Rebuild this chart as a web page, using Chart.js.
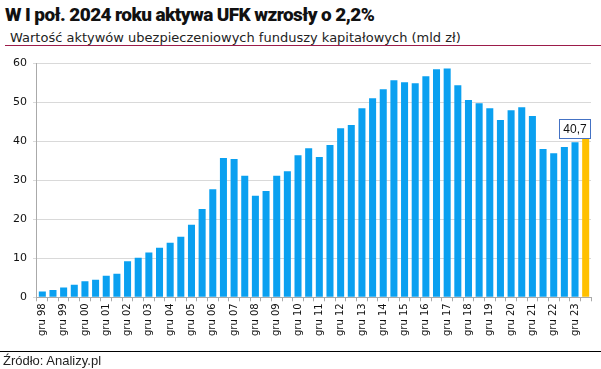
<!DOCTYPE html>
<html>
<head>
<meta charset="utf-8">
<script src="https://cdn.jsdelivr.net/npm/chart.js@4"></script>
<style>
  body { margin: 0; background: #fff; }
  #wrap { position: relative; width: 601px; height: 369px; overflow: hidden; }
  #tytul { position: absolute; left: 5px; top: 3px; font-family: Roboto, Lato, sans-serif; font-weight: 900; font-size: 19px; color: #111; letter-spacing: -0.6px; }
  #podtytul { position: absolute; left: 10px; top: 30px; font-family: "DejaVu Sans", sans-serif; font-size: 13px; color: #222; }
  #linia1 { position: absolute; left: 5px; right: 0; top: 45px; height: 1px; background: #9c1c4a; }
  #linia2 { position: absolute; left: 0; right: 0; top: 351px; height: 1px; background: #000; }
  #zrodlo { position: absolute; left: 3px; top: 353px; font-family: "Liberation Sans", Arial, sans-serif; font-size: 13px; color: #222; }
  #wykres { position: absolute; left: 0; top: 0; width: 601px; height: 369px; }
</style>
</head>
<body>
<div id="wrap">
  <div id="tytul">W I poł. 2024 roku aktywa UFK wzrosły o 2,2%</div>
  <div id="podtytul">Wartość aktywów ubezpieczeniowych funduszy kapitałowych (mld zł)</div>
  <div id="linia1"></div>
  <div id="wykres"><canvas id="aktywaChart"></canvas></div>
  <div id="linia2"></div>
  <div id="zrodlo">Źródło: Analizy.pl</div>
</div>
<script>
// okresy półroczne: gru 98, cze 99, gru 99 ... gru 23, cze 24
const okresy = [];
for (let r = 98; r <= 123; r++) {
    const rr = String(r % 100).padStart(2, '0');
    if (r > 98) okresy.push('cze ' + rr);
    okresy.push('gru ' + rr);
}
okresy.push('cze 24');

// wartości aktywów (mld zł)
const aktywa = [
    1.5, 1.9, 2.5, 3.2, 4.1, 4.5, 5.5, 6.0, 9.2, 10.1,
    11.5, 12.7, 14.0, 15.5, 18.6, 22.6, 27.7, 35.7, 35.4, 31.1,
    26.0, 27.2, 31.1, 32.3, 36.4, 38.2, 35.9, 39.0, 43.3, 44.1,
    48.4, 51.0, 53.3, 55.6, 55.1, 54.8, 56.6, 58.4, 58.6, 54.3,
    50.5, 49.7, 48.4, 45.4, 47.9, 48.7, 46.4, 38.0, 36.9, 38.5,
    39.7, 40.7
];

const etykietaOstatniej = '40,7';

const kolory = aktywa.map((v, i) => i === aktywa.length - 1 ? '#ffc000' : '#0aa0f0');

// ramka z wartością nad ostatnim słupkiem
const ramkaPlugin = {
    id: 'ramka',
    afterDatasetsDraw(chart) {
        const ctx = chart.ctx;
        const meta = chart.getDatasetMeta(0);
        const bar = meta.data[meta.data.length - 1];
        ctx.save();
        ctx.font = '12px "Liberation Sans", Arial, sans-serif';
        const w = 31;
        const h = 19;
        const x = Math.round(bar.x + bar.width / 2 - w + 1);
        const y = Math.round(bar.y - h);
        ctx.fillStyle = '#fff';
        ctx.fillRect(x, y, w, h);
        ctx.strokeStyle = '#4472c4';
        ctx.lineWidth = 1;
        ctx.strokeRect(x + 0.5, y + 0.5, w, h);
        ctx.fillStyle = '#111';
        ctx.textAlign = 'center';
        ctx.textBaseline = 'middle';
        ctx.fillText(etykietaOstatniej, x + w / 2 + 0.5, y + h / 2 + 1);
        ctx.restore();
    }
};

new Chart(document.getElementById('aktywaChart'), {
    type: 'bar',
    data: {
        labels: okresy,
        datasets: [{
            data: aktywa,
            backgroundColor: kolory,
            barPercentage: 0.66,
            categoryPercentage: 1.0
        }]
    },
    options: {
        responsive: true,
        maintainAspectRatio: false,
        animation: false,
        layout: { padding: { top: 63, right: 10, left: 7, bottom: 31 } },
        plugins: { legend: { display: false }, tooltip: { enabled: false } },
        scales: {
            x: {
                offset: true,
                grid: { drawOnChartArea: false, drawTicks: true, tickLength: 4, color: '#aaa', offset: true },
                border: { color: '#aaa' },
                ticks: {
                    autoSkip: false,
                    minRotation: 90,
                    maxRotation: 90,
                    padding: 2,
                    color: '#111',
                    font: { family: '"DejaVu Sans", sans-serif', size: 10 },
                    callback: function (v, i) { return i % 2 === 0 ? this.getLabelForValue(v) : ''; }
                }
            },
            y: {
                min: 0,
                max: 60,
                ticks: { stepSize: 10, color: '#111', padding: 6, font: { family: '"DejaVu Sans", sans-serif', size: 11 } },
                grid: { color: '#d9d9d9', drawTicks: true, tickLength: 4 },
                border: { color: '#aaa' }
            }
        }
    },
    plugins: [ramkaPlugin]
});
</script>
</body>
</html>
